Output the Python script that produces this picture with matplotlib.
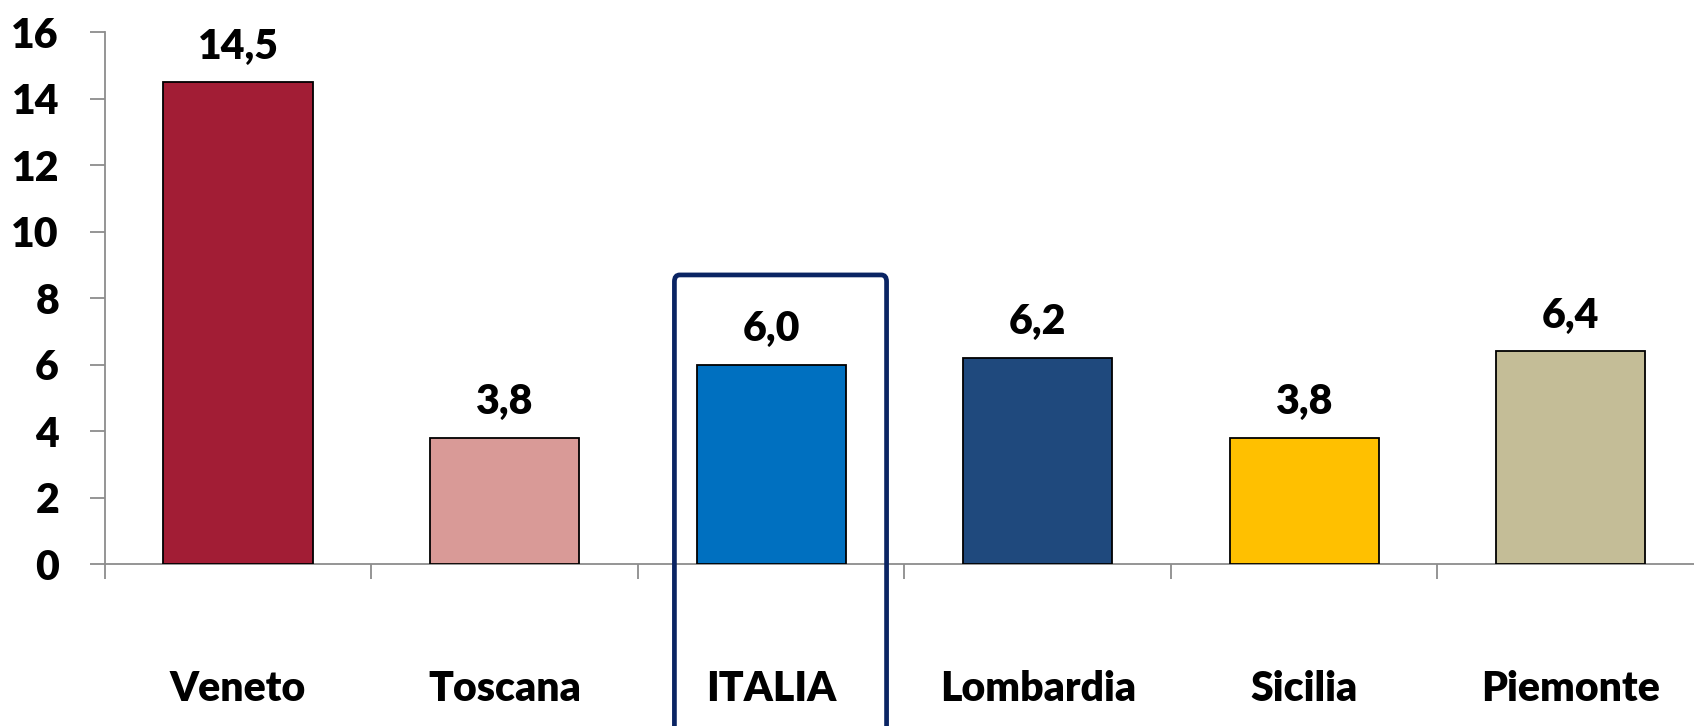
import matplotlib
matplotlib.use("Agg")
import matplotlib.pyplot as plt
from matplotlib.patches import FancyBboxPatch
from matplotlib.ticker import FixedLocator, NullFormatter

# Regions and values
regions = ["Veneto", "Toscana", "ITALIA", "Lombardia", "Sicilia", "Piemonte"]
values = [14.5, 3.8, 6.0, 6.2, 3.8, 6.4]
colors = ["#A21D35", "#D99A97", "#0070C0", "#1F497D", "#FFC000", "#C4BD97"]
y_ticks = [0, 2, 4, 6, 8, 10, 12, 14, 16]
highlight = "ITALIA"

plt.rcParams["font.family"] = ["Lato", "DejaVu Sans"]
WEIGHT = "heavy"
plt.rcParams["font.weight"] = WEIGHT
FS = 29.5

fig = plt.figure(figsize=(16.94, 7.26), dpi=100)
ax = fig.add_axes([0.0619, 0.2231, 0.944, 0.7323])

x = list(range(len(regions)))
ax.bar(x, values, width=0.56, color=colors, edgecolor="black", linewidth=1.3, zorder=3)

for xi, v in zip(x, values):
    ax.annotate(f"{v:.1f}".replace(".", ","), (xi, v), xytext=(0, 17),
                textcoords="offset points", ha="center", va="baseline",
                fontsize=FS, fontweight=WEIGHT, color="black")

ax.set_xlim(-0.5, len(regions) - 0.5)
ax.set_ylim(0, 16)
ax.set_yticks(y_ticks)
ax.set_yticklabels([str(t) for t in y_ticks], fontsize=FS, fontweight=WEIGHT)

# category labels centred under bars, separator ticks at category edges
ax.set_xticks(x)
ax.set_xticklabels(regions, fontsize=FS, fontweight=WEIGHT)
ax.xaxis.set_minor_locator(FixedLocator([i - 0.5 for i in range(len(regions) + 1)]))
ax.xaxis.set_minor_formatter(NullFormatter())
ax.tick_params(axis="x", which="major", length=0, pad=76)
ax.tick_params(axis="x", which="minor", length=11, width=1.3, color="#8C8C8C", direction="out")
ax.tick_params(axis="y", length=11, width=1.3, color="#8C8C8C", direction="out", pad=22)

for side in ("top", "right"):
    ax.spines[side].set_visible(False)
for side in ("left", "bottom"):
    ax.spines[side].set_color("#8C8C8C")
    ax.spines[side].set_linewidth(1.3)

# frame around the national value
hi = regions.index(highlight)
box = FancyBboxPatch((hi - 0.363, -12), 0.796, 12 + 8.70,
                     boxstyle="round,pad=0,rounding_size=0.02",
                     fill=False, edgecolor="#0A2463", linewidth=3.4,
                     clip_on=False, zorder=4, mutation_aspect=10)
ax.add_patch(box)

fig.savefig("out.png", dpi=100)
